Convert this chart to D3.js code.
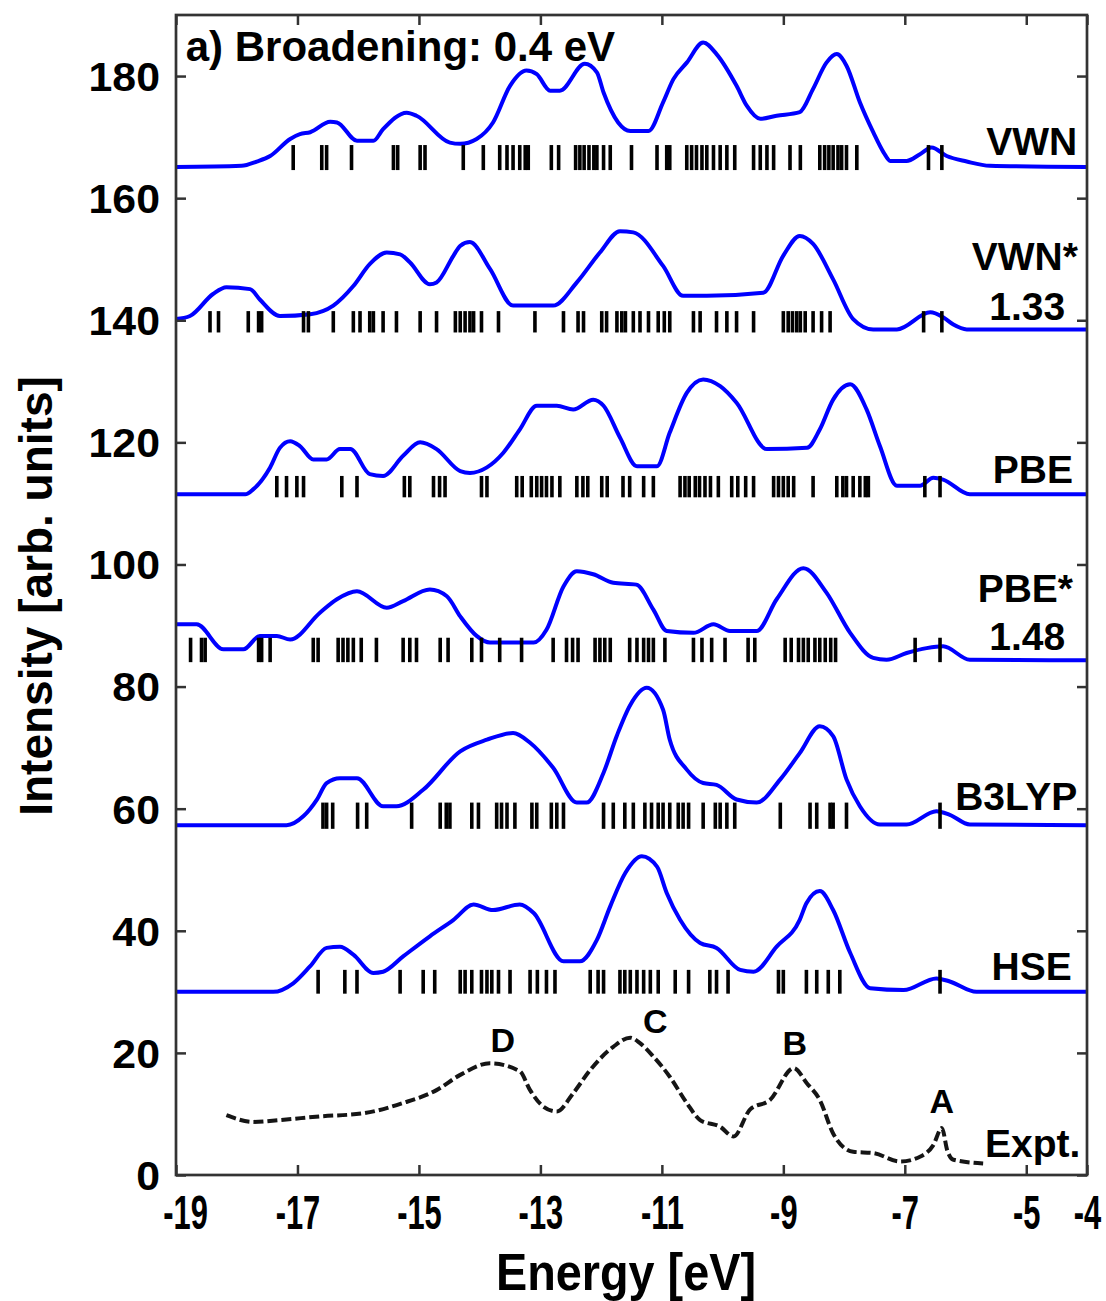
<!DOCTYPE html>
<html>
<head>
<meta charset="utf-8">
<script src="https://cdn.jsdelivr.net/npm/d3@7"></script>
<style>
body { margin: 0; background: #fff; }
text { font-family: "Liberation Sans", Arial, sans-serif; font-weight: bold; fill: #000; }
</style>
</head>
<body>
<script>
// tick values
var xTicks = [-19, -17, -15, -13, -11, -9, -7, -5, -4];
var yTicks = [0, 20, 40, 60, 80, 100, 120, 140, 160, 180];

// broadened spectra [energy eV, intensity]
var vwnCurve = [[-19,165.1],[-17.92,165.3],[-17.67,166.0],[-17.45,166.9],[-17.12,169.7],[-16.96,170.5],[-16.79,170.8],[-16.46,172.5],[-16.35,172.4],[-16.02,169.4],[-15.75,169.4],[-15.59,171.3],[-15.2,174.0],[-15.04,173.5],[-14.49,169.1],[-14.32,168.9],[-14.05,169.7],[-13.78,172.4],[-13.5,178.4],[-13.23,180.9],[-13.06,180.3],[-12.84,177.6],[-12.68,177.6],[-12.27,182.0],[-12.07,180.6],[-11.96,177.3],[-11.72,172.4],[-11.52,171.0],[-11.22,171.0],[-10.98,175.7],[-10.81,179.5],[-10.59,182.2],[-10.32,185.5],[-10.1,183.6],[-9.77,178.4],[-9.6,175.1],[-9.38,173.0],[-9.11,173.5],[-8.73,174.1],[-8.51,177.9],[-8.29,182.2],[-8.12,183.6],[-7.96,181.7],[-7.74,175.7],[-7.52,170.8],[-7.35,167.5],[-7.24,166.1],[-6.97,166.1],[-6.75,167.2],[-6.56,168.3],[-6.31,166.9],[-5.98,166.0],[-5.6,165.3],[-4,165.1]];
var vwnStarCurve = [[-19,140.2],[-18.77,140.7],[-18.39,144.3],[-18.17,145.4],[-17.78,145.1],[-17.62,143.4],[-17.29,140.7],[-16.79,141.0],[-16.41,142.4],[-16.08,145.6],[-15.81,149.2],[-15.53,151.1],[-15.31,150.8],[-15.15,149.5],[-14.82,145.9],[-14.71,146.2],[-14.43,150.6],[-14.32,152.2],[-14.16,152.8],[-13.83,148.4],[-13.45,142.4],[-12.79,142.4],[-12.4,146.2],[-12.02,151.1],[-11.69,154.6],[-11.47,154.4],[-10.98,148.9],[-10.65,144.0],[-10.26,144.0],[-9.33,144.5],[-9.0,150.6],[-8.73,153.8],[-8.51,152.5],[-8.18,146.7],[-7.85,140.2],[-7.52,138.5],[-7.13,138.5],[-6.58,141.3],[-6.37,140.5],[-6.2,139.3],[-5.98,138.5],[-4,138.5]];
var pbeCurve = [[-19,111.5],[-17.86,111.5],[-17.73,112.3],[-17.45,115.9],[-17.29,119.1],[-17.12,120.2],[-16.96,119.4],[-16.74,117.2],[-16.52,117.2],[-16.3,118.9],[-16.13,118.9],[-15.81,114.8],[-15.59,114.5],[-15.26,117.8],[-14.98,120.0],[-14.71,118.9],[-14.32,115.3],[-14.16,115.0],[-13.88,115.9],[-13.61,118.3],[-13.34,122.1],[-13.06,126.0],[-12.73,126.0],[-12.46,125.4],[-12.13,127.0],[-11.96,126.0],[-11.69,120.8],[-11.41,116.1],[-11.08,116.1],[-10.87,121.6],[-10.59,128.1],[-10.32,130.3],[-10.04,129.2],[-9.77,126.5],[-9.27,118.9],[-8.61,119.1],[-8.4,122.1],[-8.18,127.0],[-7.9,129.5],[-7.63,125.4],[-7.41,119.4],[-7.13,112.9],[-6.75,112.9],[-6.53,114.2],[-6.37,113.9],[-5.93,111.5],[-4,111.5]];
var pbeStarCurve = [[-19,90.2],[-18.66,90.2],[-18.22,86.1],[-17.89,86.1],[-17.62,88.3],[-17.34,88.3],[-17.12,87.7],[-16.63,92.1],[-16.35,94.3],[-16.02,95.6],[-15.53,92.9],[-15.26,94.0],[-14.82,95.9],[-14.54,94.8],[-14.32,91.5],[-14.05,88.3],[-13.83,87.2],[-13.11,87.2],[-12.9,89.3],[-12.62,96.4],[-12.4,98.9],[-12.13,98.4],[-11.8,97.0],[-11.42,96.7],[-11.14,92.6],[-10.92,89.1],[-10.48,88.8],[-10.15,90.2],[-9.88,89.1],[-9.44,89.1],[-9.11,94.3],[-8.67,99.4],[-8.29,95.4],[-7.9,88.8],[-7.52,84.7],[-7.3,84.4],[-6.97,85.5],[-6.64,86.3],[-6.37,86.6],[-5.93,84.4],[-4,84.3]];
var b3lypCurve = [[-19,57.3],[-17.18,57.3],[-16.9,58.8],[-16.68,61.5],[-16.52,64.2],[-16.3,65.0],[-16.02,65.0],[-15.59,60.4],[-15.37,60.4],[-14.93,63.1],[-14.32,69.4],[-13.88,71.3],[-13.45,72.4],[-13.17,70.8],[-12.79,66.7],[-12.4,61.0],[-12.24,61.0],[-11.96,65.9],[-11.74,72.0],[-11.52,77.0],[-11.25,79.8],[-10.98,76.2],[-10.87,71.3],[-10.59,66.4],[-10.32,64.2],[-10.1,63.9],[-9.77,61.5],[-9.44,61.0],[-9.05,64.8],[-8.73,69.1],[-8.4,73.5],[-8.18,71.9],[-7.96,64.8],[-7.74,60.4],[-7.41,57.4],[-6.97,57.4],[-6.48,59.6],[-6.26,59.0],[-5.93,57.4],[-4,57.3]];
var hseCurve = [[-19,30.0],[-17.4,30.0],[-17.07,31.4],[-16.79,34.2],[-16.52,37.2],[-16.3,37.4],[-16.08,36.1],[-15.75,33.1],[-15.59,33.3],[-15.26,35.8],[-14.82,39.1],[-14.43,41.8],[-14.1,44.3],[-13.78,43.4],[-13.34,44.3],[-13.11,42.9],[-12.62,35.0],[-12.35,35.0],[-12.07,38.5],[-11.85,44.0],[-11.6,49.5],[-11.33,52.2],[-11.08,50.5],[-10.92,46.2],[-10.7,41.8],[-10.37,38.0],[-10.1,37.2],[-9.71,33.6],[-9.49,33.3],[-9.11,37.4],[-8.73,41.8],[-8.62,44.5],[-8.4,46.5],[-8.18,43.4],[-7.9,36.4],[-7.57,30.6],[-7.02,30.3],[-6.48,32.2],[-6.26,31.7],[-5.82,30.0],[-4,30.0]];
var exptCurve = [[-18.17,9.8],[-17.73,8.7],[-17.29,9.0],[-16.63,9.6],[-15.92,10.1],[-15.26,11.8],[-14.71,13.9],[-14.32,16.4],[-13.83,18.3],[-13.34,17.0],[-13.17,13.9],[-12.95,11.2],[-12.73,10.4],[-12.46,13.4],[-12.18,17.2],[-11.8,21.0],[-11.52,22.5],[-11.36,21.6],[-11.14,19.4],[-10.87,16.1],[-10.59,11.8],[-10.37,9.0],[-10.04,7.9],[-9.82,6.3],[-9.55,10.7],[-9.22,12.3],[-8.83,17.5],[-8.61,15.0],[-8.4,12.3],[-8.18,6.8],[-7.85,3.8],[-7.52,3.6],[-7.08,2.2],[-6.75,3.0],[-6.53,4.9],[-6.39,7.7],[-6.3,4.0],[-6.2,2.5],[-5.71,1.9]];

// eigenvalue sticks (eV)
var vwnSticks = [-17.07,-16.60,-16.52,-16.11,-15.42,-15.35,-14.98,-14.90,-14.27,-13.94,-13.67,-13.55,-13.45,-13.34,-13.25,-13.20,-12.82,-12.70,-12.42,-12.35,-12.28,-12.20,-12.12,-12.07,-11.96,-11.85,-11.50,-11.08,-10.92,-10.87,-10.59,-10.51,-10.43,-10.34,-10.26,-10.15,-10.04,-9.93,-9.80,-9.49,-9.38,-9.27,-9.16,-8.89,-8.72,-8.40,-8.32,-8.25,-8.18,-8.10,-8.04,-7.96,-7.79,-6.61,-6.39];
var vwnStarSticks = [-18.44,-18.30,-17.81,-17.64,-17.59,-16.90,-16.82,-16.41,-16.08,-15.97,-15.81,-15.75,-15.59,-15.37,-14.98,-14.71,-14.40,-14.32,-14.24,-14.16,-14.10,-13.97,-13.69,-13.09,-12.62,-12.38,-12.29,-11.99,-11.91,-11.74,-11.66,-11.60,-11.47,-11.36,-11.22,-11.06,-10.96,-10.87,-10.48,-10.37,-10.10,-9.93,-9.77,-9.49,-9.00,-8.92,-8.85,-8.78,-8.72,-8.64,-8.51,-8.37,-8.23,-6.69,-6.39];
var pbeSticks = [-17.34,-17.18,-17.01,-16.90,-16.27,-16.02,-15.24,-15.15,-14.76,-14.66,-14.57,-13.97,-13.88,-13.39,-13.30,-13.15,-13.06,-12.98,-12.90,-12.81,-12.68,-12.40,-12.30,-12.22,-11.99,-11.90,-11.64,-11.53,-11.30,-11.14,-10.70,-10.62,-10.55,-10.45,-10.38,-10.29,-10.20,-10.07,-9.85,-9.75,-9.62,-9.49,-9.16,-9.08,-9.00,-8.92,-8.83,-8.51,-8.12,-8.02,-7.96,-7.85,-7.74,-7.65,-7.60,-6.67,-6.42];
var pbeStarSticks = [-18.76,-18.58,-18.52,-17.64,-17.59,-17.45,-16.74,-16.66,-16.33,-16.25,-16.17,-16.08,-15.95,-15.70,-15.26,-15.15,-15.04,-14.65,-14.52,-14.13,-13.97,-13.67,-13.31,-12.79,-12.57,-12.47,-12.38,-12.10,-12.02,-11.94,-11.85,-11.53,-11.41,-11.30,-11.22,-11.14,-10.95,-10.48,-10.34,-10.18,-9.96,-9.58,-9.47,-8.97,-8.87,-8.75,-8.67,-8.59,-8.48,-8.40,-8.31,-8.22,-8.14,-6.83,-6.42];
var b3lypSticks = [-16.58,-16.52,-16.42,-16.01,-15.86,-15.12,-14.65,-14.55,-14.49,-14.13,-14.02,-13.72,-13.64,-13.55,-13.42,-13.14,-13.06,-12.82,-12.73,-12.62,-11.96,-11.80,-11.61,-11.47,-11.28,-11.17,-11.06,-10.98,-10.87,-10.73,-10.65,-10.56,-10.32,-10.12,-10.04,-9.93,-9.80,-9.05,-8.56,-8.45,-8.23,-8.18,-7.96,-6.42];
var hseSticks = [-16.66,-16.22,-16.02,-15.31,-14.93,-14.74,-14.32,-14.24,-14.13,-13.97,-13.88,-13.80,-13.69,-13.50,-13.17,-13.05,-12.90,-12.76,-12.18,-12.05,-11.96,-11.69,-11.61,-11.52,-11.41,-11.30,-11.19,-11.06,-10.78,-10.56,-10.21,-10.10,-9.91,-9.08,-9.00,-8.62,-8.45,-8.26,-8.07,-6.42];

// intensity range covered by each stick row
var vwnBand = [164.6, 168.7];
var vwnStarBand = [138.0, 141.5];
var pbeBand = [111.0, 114.5];
var pbeStarBand = [84.0, 88.0];
var b3lypBand = [56.7, 61.0];
var hseBand = [29.7, 33.6];

var series = [
    {curve: vwnCurve, sticks: vwnSticks, band: vwnBand},
    {curve: vwnStarCurve, sticks: vwnStarSticks, band: vwnStarBand},
    {curve: pbeCurve, sticks: pbeSticks, band: pbeBand},
    {curve: pbeStarCurve, sticks: pbeStarSticks, band: pbeStarBand},
    {curve: b3lypCurve, sticks: b3lypSticks, band: b3lypBand},
    {curve: hseCurve, sticks: hseSticks, band: hseBand}
];

var w = 1106;
var h = 1301;
var x = d3.scaleLinear().domain([-19, -4]).range([176, 1087]);
var y = d3.scaleLinear().domain([0, 190]).range([1175, 15]);

var svg = d3.select("body")
        .append("svg")
        .attr("width", w)
        .attr("height", h);

var line = d3.line()
        .x(function (d) { return x(d[0]); })
        .y(function (d) { return y(d[1]); })
        .curve(d3.curveMonotoneX);

// blue spectra
svg.selectAll("path.spec")
        .data(series)
        .enter()
        .append("path")
        .attr("class", "spec")
        .attr("d", function (d) { return line(d.curve); })
        .style("fill", "none")
        .style("stroke", "#0000ff")
        .style("stroke-width", 4)
        .style("stroke-linejoin", "round");

// sticks
series.forEach(function (s) {
    svg.append("g").selectAll("line")
            .data(s.sticks)
            .enter()
            .append("line")
            .attr("x1", function (d) { return x(d); })
            .attr("x2", function (d) { return x(d); })
            .attr("y1", y(s.band[0]))
            .attr("y2", y(s.band[1]))
            .style("stroke", "#000")
            .style("stroke-width", 3.6);
});

// experiment, dashed
svg.append("path")
        .attr("d", line(exptCurve))
        .style("fill", "none")
        .style("stroke", "#151515")
        .style("stroke-width", 4)
        .style("stroke-dasharray", "10,4");

// axes with inward ticks
var xAxis = svg.append("g")
        .attr("transform", "translate(0," + y(0) + ")")
        .call(d3.axisBottom(x).tickValues(xTicks).tickSize(-10).tickPadding(19)
            .tickFormat(function (d) { return String(d); }));
var yAxis = svg.append("g")
        .attr("transform", "translate(" + x(-19) + ",0)")
        .call(d3.axisLeft(y).tickValues(yTicks).tickSize(-10).tickPadding(15));
svg.append("g")
        .attr("transform", "translate(0," + y(190) + ")")
        .call(d3.axisTop(x).tickValues(xTicks).tickSize(-10).tickFormat(""));
svg.append("g")
        .attr("transform", "translate(" + x(-4) + ",0)")
        .call(d3.axisRight(y).tickValues(yTicks).tickSize(-10).tickFormat(""));

svg.selectAll(".domain").remove();
svg.selectAll(".tick line").style("stroke", "#333").style("stroke-width", 2.5);

xAxis.selectAll("text")
        .style("font-size", "49px")
        .attr("transform", function (d) { return d === -19 ? "translate(9,0) scale(0.63,1)" : "scale(0.63,1)"; });
yAxis.selectAll("text")
        .style("font-size", "40px")
        .attr("dy", "0.36em")
        .attr("transform", "scale(1.07,1)");

svg.append("rect")
        .attr("x", x(-19))
        .attr("y", y(190))
        .attr("width", x(-4) - x(-19))
        .attr("height", y(0) - y(190))
        .style("fill", "none")
        .style("stroke", "#333")
        .style("stroke-width", 2.7);

// axis titles
svg.append("text")
        .attr("transform", "translate(626,1290) scale(0.9,1)")
        .attr("text-anchor", "middle")
        .style("font-size", "52px")
        .text("Energy [eV]");
svg.append("text")
        .attr("transform", "translate(52,596) rotate(-90)")
        .attr("text-anchor", "middle")
        .style("font-size", "46px")
        .text("Intensity [arb. units]");

svg.append("text")
        .attr("x", x(-18.84))
        .attr("y", y(182.5))
        .style("font-size", "42px")
        .text("a) Broadening: 0.4 eV");

// method labels, right aligned near the right frame
var labelFont = "39px";
function rlabel(t, e, v) {
    svg.append("text")
            .attr("x", x(e))
            .attr("y", y(v))
            .attr("text-anchor", "end")
            .style("font-size", labelFont)
            .text(t);
}
rlabel("VWN", -4.16, 167.1);
rlabel("VWN*", -4.15, 148.2);
rlabel("1.33", -4.36, 140.0);
rlabel("PBE", -4.23, 113.3);
rlabel("PBE*", -4.23, 93.9);
rlabel("1.48", -4.36, 86.0);
rlabel("B3LYP", -4.16, 59.8);
rlabel("HSE", -4.25, 31.9);
rlabel("Expt.", -4.11, 2.9);

// peak letters on the experiment
function plabel(t, e, v) {
    svg.append("text")
            .attr("x", x(e))
            .attr("y", y(v))
            .attr("text-anchor", "middle")
            .style("font-size", "34px")
            .text(t);
}
plabel("D", -13.62, 20.1);
plabel("C", -11.11, 23.3);
plabel("B", -8.81, 19.7);
plabel("A", -6.39, 10.2);
</script>
</body>
</html>
